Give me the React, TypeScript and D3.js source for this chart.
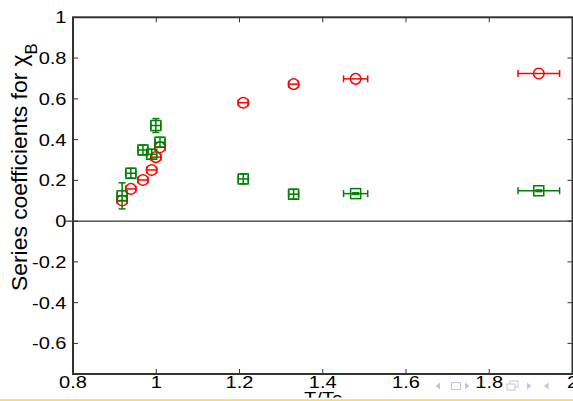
import * as d3 from 'd3';

// reduced temperature for every measured point
const temps = [0.918, 0.939, 0.968, 0.989, 0.999, 1.009, 1.209, 1.33, 1.479, 1.919];
const tempErr = [0.012, 0.012, 0.012, 0.012, 0.012, 0.012, 0.012, 0.012, 0.029, 0.05];
// red circles
const redVals = [0.101, 0.158, 0.202, 0.251, 0.314, 0.362, 0.581, 0.672, 0.698, 0.724];
const redErr = [0, 0, 0, 0, 0, 0, 0, 0, 0, 0];
// green squares
const greenVals = [0.124, 0.235, 0.349, 0.328, 0.469, 0.387, 0.207, 0.132, 0.135, 0.149];
const greenErr = [0.064, 0.024, 0.024, 0.024, 0.034, 0.024, 0.024, 0.024, 0.004, 0.004];

const xTicks = [0.8, 1, 1.2, 1.4, 1.6, 1.8, 2];
const yTicks = [-0.6, -0.4, -0.2, 0, 0.2, 0.4, 0.6, 0.8, 1];

const W = 573;
const H = 401;
const font = '"Liberation Sans", Arial, sans-serif';
const navColor = '#c3c7de';

export default function App() {
  const x = d3.scaleLinear().domain([0.8, 2]).range([73, 572.5]);
  const y = d3.scaleLinear().domain([-0.75, 1]).range([374, 17.3]);
  const [x0, x1] = x.range();
  const [yb, yt] = y.range();
  const cap = 3.5;

  const errBars = (vals: number[], verr: number[], color: string) =>
    temps.map((t, i) => {
      const cx = x(t);
      const cy = y(vals[i]);
      const xl = x(t - tempErr[i]);
      const xr = x(t + tempErr[i]);
      const ylo = y(vals[i] - verr[i]);
      const yhi = y(vals[i] + verr[i]);
      return (
        <g key={i} stroke={color} strokeWidth={1.5}>
          <line x1={xl} x2={xr} y1={cy} y2={cy} />
          <line x1={xl} x2={xl} y1={cy - cap} y2={cy + cap} />
          <line x1={xr} x2={xr} y1={cy - cap} y2={cy + cap} />
          {verr[i] > 0 && (
            <>
              <line x1={cx} x2={cx} y1={ylo} y2={yhi} />
              <line x1={cx - cap} x2={cx + cap} y1={ylo} y2={ylo} />
              <line x1={cx - cap} x2={cx + cap} y1={yhi} y2={yhi} />
            </>
          )}
        </g>
      );
    });

  return (
    <svg
      width={W}
      height={H}
      style={{ position: 'absolute', left: 0, top: 0, background: '#fff' }}
      fontFamily={font}
    >
      {/* zero line */}
      <line x1={66} x2={x1} y1={y(0)} y2={y(0)} stroke="#000" strokeWidth={1} />

      {/* ticks */}
      {yTicks.map((v) => (
        <g key={'yt' + v} stroke="#333" strokeWidth={1}>
          <line x1={x0} x2={x0 + 5} y1={y(v)} y2={y(v)} />
          <line x1={x1 - 5} x2={x1} y1={y(v)} y2={y(v)} />
        </g>
      ))}
      {xTicks.map((v) => (
        <g key={'xt' + v} stroke="#333" strokeWidth={1}>
          <line x1={x(v)} x2={x(v)} y1={yb} y2={yb - 5} />
          <line x1={x(v)} x2={x(v)} y1={yt} y2={yt + 5} />
        </g>
      ))}

      {/* frame */}
      <rect x={x0} y={yt} width={x1 - x0} height={yb - yt} fill="none" stroke="#333" strokeWidth={2} />

      {/* data */}
      {errBars(redVals, redErr, '#ff0000')}
      {temps.map((t, i) => (
        <circle key={'r' + i} cx={x(t)} cy={y(redVals[i])} r={5.3} fill="none" stroke="#ff0000" strokeWidth={1.5} />
      ))}
      {errBars(greenVals, greenErr, '#008000')}
      {temps.map((t, i) => (
        <rect
          key={'g' + i}
          x={x(t) - 5}
          y={y(greenVals[i]) - 5}
          width={10}
          height={10}
          fill="none"
          stroke="#008000"
          strokeWidth={1.5}
        />
      ))}

      {/* tick labels */}
      {yTicks.map((v) => (
        <text
          key={'yl' + v}
          transform={`translate(66.5,${y(v) + 6}) scale(1.18,1)`}
          textAnchor="end"
          fontSize={17}
          fill="#000"
        >
          {String(v)}
        </text>
      ))}
      {xTicks.map((v) => (
        <text
          key={'xl' + v}
          transform={`translate(${x(v)},388.3) scale(1.18,1)`}
          textAnchor="middle"
          fontSize={17}
          fill="#000"
        >
          {String(v)}
        </text>
      ))}

      {/* axis titles */}
      <text transform="translate(323,404) scale(1.18,1)" textAnchor="middle" fontSize={17} fill="#000">
        T/Tc
      </text>
      <text transform="translate(26.5,291) rotate(-90) scale(1.04,1)" fontSize={22} fill="#000">
        Series coefficients for χ
        <tspan fontSize={16} dy={10}>B</tspan>
      </text>

      {/* navigation symbols */}
      <g fill={navColor} stroke={navColor} strokeWidth={1}>
        <polygon points="440,382.5 440,389.5 435.5,386" stroke="none" />
        <rect x={451.5} y={382.5} width={9} height={7} fill="none" />
        <polygon points="465,382.5 465,389.5 469.5,386" stroke="none" />
        <rect x={510} y={381} width={8} height={6} fill="#fff" />
        <rect x={507} y={384} width={8} height={6} fill="#fff" />
        <polygon points="527,382.5 527,389.5 531.5,386" stroke="none" />
        <polygon points="548.5,382.5 548.5,389.5 544,386" stroke="none" />
      </g>

      {/* footer */}
      <rect x={0} y={397.7} width={W} height={H - 397.7} fill="#fff" />
      <rect x={0} y={399.2} width={W} height={1.8} fill="#fcd873" />
    </svg>
  );
}
